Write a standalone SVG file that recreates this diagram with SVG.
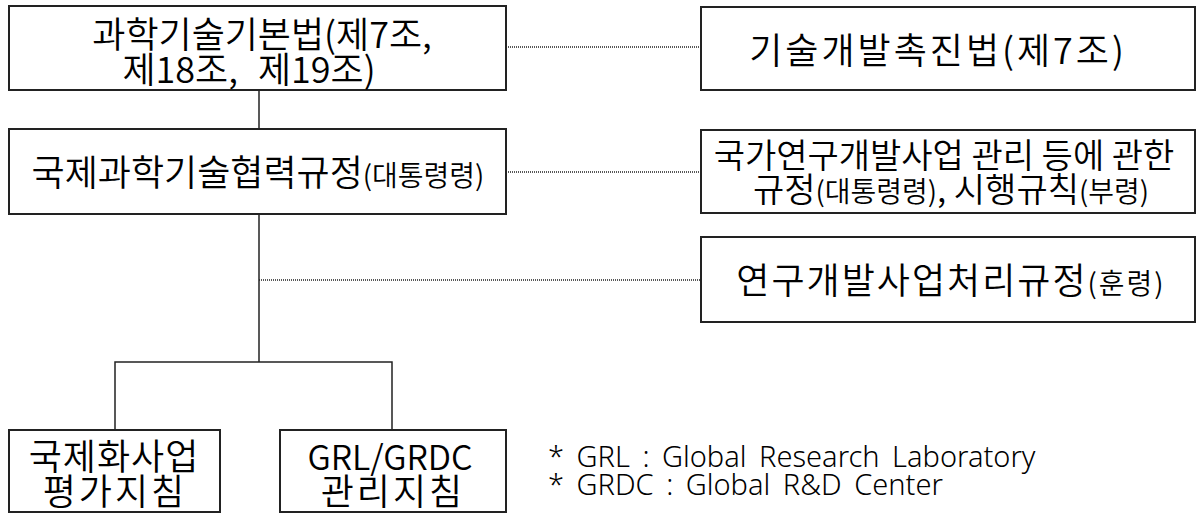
<svg xmlns="http://www.w3.org/2000/svg" width="1197" height="514" viewBox="0 0 1197 514">
<style>
.box{fill:#fff;stroke:#222;stroke-width:2}
.t{font-family:"Noto Sans CJK KR","Noto Sans",sans-serif;font-size:36px;font-weight:350;fill:#000;text-anchor:middle}
.m{font-size:34px}
.s{font-size:28px}
.fn{font-family:"Noto Sans","Noto Sans CJK KR",sans-serif;font-size:29px;font-weight:350;fill:#000;word-spacing:5px}
.solid{fill:none;stroke:#222;stroke-width:1.5}
.dot{fill:none;stroke:#222;stroke-width:1.5;stroke-dasharray:1 1}
</style>
<rect width="1197" height="514" fill="#fff"/>
<g id="connectors">
<line class="solid" x1="259" y1="90" x2="259" y2="129"/>
<polyline class="solid" points="259,214 259,362"/>
<polyline class="solid" points="115,430 115,362 392,362 392,430"/>
<line class="dot" x1="506" y1="47" x2="701" y2="47"/>
<line class="dot" x1="506" y1="172" x2="701" y2="172"/>
<line class="dot" x1="259" y1="280" x2="701" y2="280"/>
</g>
<g id="n1">
<rect class="box" x="9" y="6" width="497" height="84"/>
<text class="t" x="262" y="48">과학기술기본법(제7조,</text>
<text class="t" x="249" y="83" word-spacing="12">제18조, 제19조)</text>
</g>
<g id="n2">
<rect class="box" x="9" y="129" width="497" height="85"/>
<text class="t" x="258" y="186">국제과학기술협력규정<tspan class="s">(대통령령)</tspan></text>
</g>
<g id="n3">
<rect class="box" x="701" y="7" width="494" height="83"/>
<text class="t" x="938" y="64" letter-spacing="3">기술개발촉진법(제7조)</text>
</g>
<g id="n4">
<rect class="box" x="701" y="130" width="494" height="83"/>
<text class="t m" x="944" y="168">국가연구개발사업 관리 등에 관한</text>
<text class="t m" x="951" y="202">규정<tspan class="s">(대통령령)</tspan>, 시행규칙<tspan class="s">(부령)</tspan></text>
</g>
<g id="n5">
<rect class="box" x="701" y="237" width="494" height="85"/>
<text class="t" x="951" y="294" letter-spacing="2">연구개발사업처리규정<tspan class="s">(훈령)</tspan></text>
</g>
<g id="n6">
<rect class="box" x="9" y="430" width="211" height="82"/>
<text class="t" x="114" y="470" letter-spacing="1">국제화사업</text>
<text class="t" x="115" y="505" letter-spacing="3">평가지침</text>
</g>
<g id="n7">
<rect class="box" x="280" y="430" width="226" height="82"/>
<text class="t m" x="390" y="470">GRL/GRDC</text>
<text class="t" x="393" y="505" letter-spacing="3">관리지침</text>
</g>
<g id="note">
<text class="fn" x="548" y="467">* GRL : Global Research Laboratory</text>
<text class="fn" x="548" y="495">* GRDC : Global R&amp;D Center</text>
</g>
</svg>
